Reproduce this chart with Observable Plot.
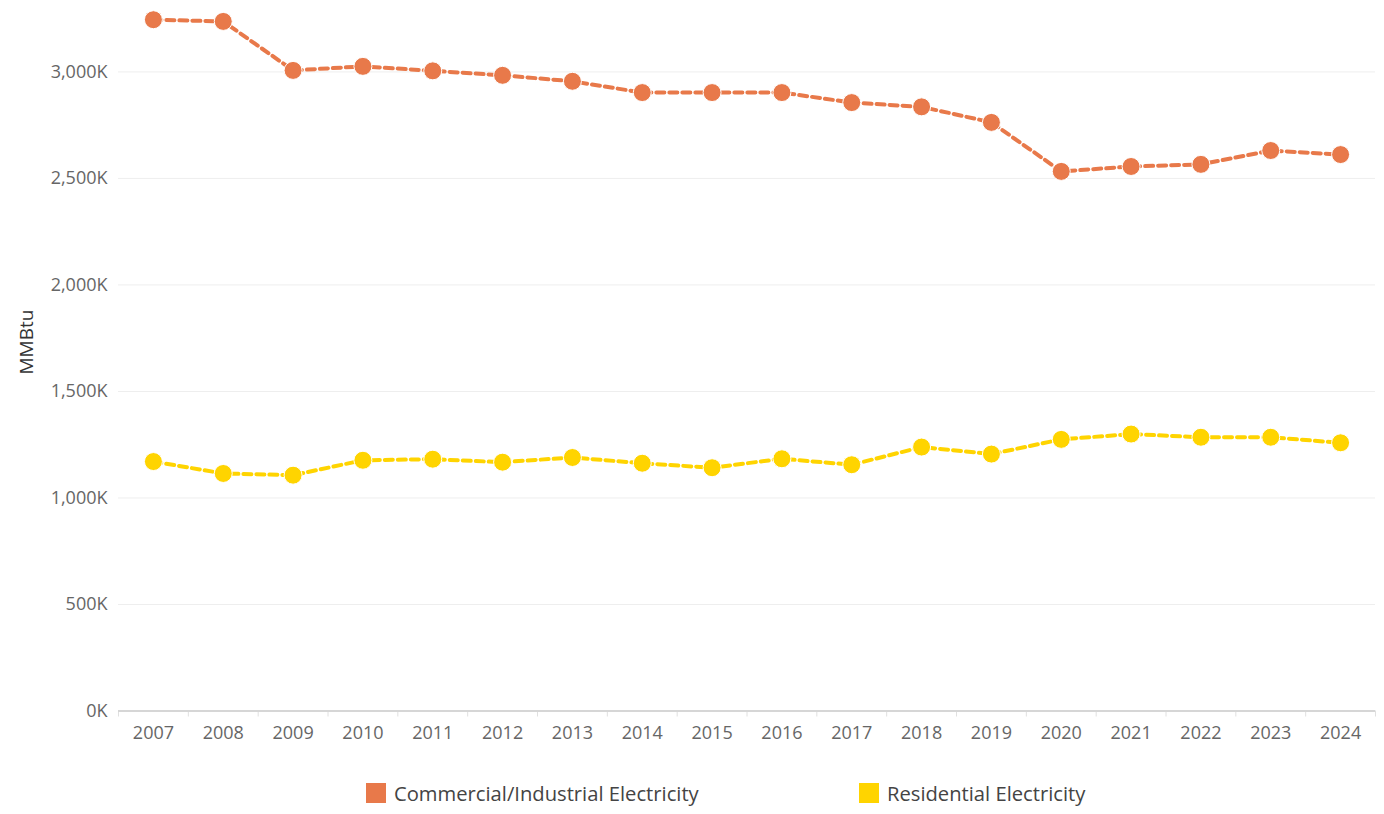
<!DOCTYPE html>
<html>
<head>
<meta charset="utf-8">
<script src="https://cdn.jsdelivr.net/npm/d3@7"></script>
<script src="https://cdn.jsdelivr.net/npm/@observablehq/plot@0.6"></script>
<style>
  html, body { margin: 0; padding: 0; background: #fff; }
  body { width: 1384px; height: 814px; overflow: hidden; font-family: "Open Sans", sans-serif; }
  #legend { position: relative; height: 22px; margin-top: 27px; font-size: 20.2px; color: #444; }
  .item { position: absolute; top: 0; display: flex; align-items: center; height: 22px; white-space: nowrap; }
  .sw { width: 20px; height: 20px; margin-right: 8px; }
</style>
</head>
<body>
<div id="chart"></div>
<div id="legend"></div>
<script>
const years = [2007,2008,2009,2010,2011,2012,2013,2014,2015,2016,2017,2018,2019,2020,2021,2022,2023,2024];
// values in thousands of MMBtu
const commercial = [3245,3237,3007,3026,3005,2984,2956,2903,2903,2903,2856,2836,2763,2533,2556,2566,2631,2612];
const residential = [1171,1115,1107,1177,1182,1168,1190,1163,1142,1184,1156,1239,1206,1275,1300,1285,1285,1259];
const seriesNames = ["Commercial/Industrial Electricity", "Residential Electricity"];
const seriesColors = ["#E8794A", "#FFD400"];
const yTicks = [0, 500, 1000, 1500, 2000, 2500, 3000];
const legendX = [366, 859];

const data = [];
years.forEach((y, i) => {
  data.push({year: y, value: commercial[i], series: seriesNames[0]});
  data.push({year: y, value: residential[i], series: seriesNames[1]});
});
const bounds = [years[0] - 0.5, ...years.map(y => y + 0.5)];

const chart = Plot.plot({
  width: 1384,
  height: 755,
  marginLeft: 118,
  marginRight: 9,
  marginTop: 7.5,
  marginBottom: 44.5,
  style: {fontFamily: "Open Sans, sans-serif", background: "#fff"},
  x: {type: "linear", domain: [years[0] - 0.5, years[years.length - 1] + 0.5]},
  y: {domain: [0, 3300]},
  color: {domain: seriesNames, range: seriesColors},
  marks: [
    Plot.gridY(yTicks.filter(d => d > 0), {stroke: "#eeeeee", strokeOpacity: 1, strokeWidth: 1}),
    Plot.axisY({ticks: yTicks, tickSize: 0, tickPadding: 11, tickFormat: d => d3.format(",")(d) + "K", fontSize: 18, fill: "#666", label: null}),
    Plot.axisX({ticks: bounds, tickSize: 6, tickFormat: () => "", stroke: "#e0e0e0", label: null}),
    Plot.axisX({ticks: years, tickSize: 0, tickPadding: 15, tickFormat: d => String(d), fontSize: 18, fill: "#666", label: null}),
    Plot.ruleY([0], {stroke: "#d6d6d6", strokeWidth: 2}),
    Plot.text(["MMBtu"], {frameAnchor: "left", rotate: -90, dx: -92, dy: 15, fontSize: 19, fill: "#333"}),
    Plot.line(data, {x: "year", y: "value", z: "series", stroke: "series", strokeWidth: 4, strokeDasharray: "8,5"}),
    Plot.dot(data, {x: "year", y: "value", fill: "series", r: 9, stroke: "white", strokeWidth: 1})
  ]
});
document.getElementById("chart").appendChild(chart);

const legend = document.getElementById("legend");
seriesNames.forEach((n, i) => {
  const it = document.createElement("div");
  it.className = "item";
  it.style.left = legendX[i] + "px";
  const sw = document.createElement("div");
  sw.className = "sw";
  sw.style.background = seriesColors[i];
  const t = document.createElement("span");
  t.textContent = n;
  it.appendChild(sw); it.appendChild(t);
  legend.appendChild(it);
});
</script>
</body>
</html>
